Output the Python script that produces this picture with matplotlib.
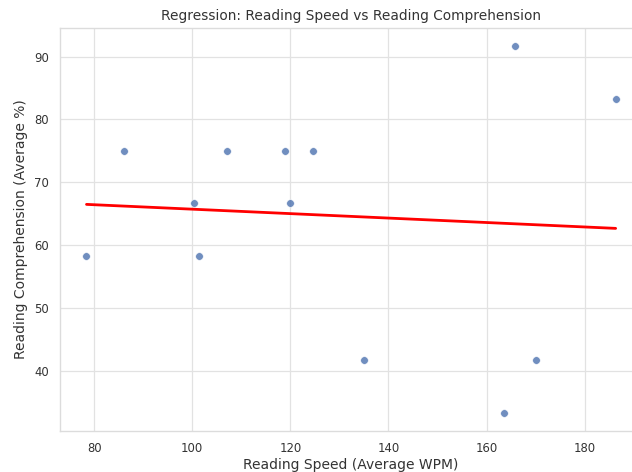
import numpy as np
import matplotlib
matplotlib.use("Agg")
import matplotlib.pyplot as plt
import seaborn as sns

# Average reading speed (WPM) and comprehension (%) per reader
speed_wpm = [78.45, 86.05, 100.46, 101.48, 107.1, 119.0, 119.9, 124.7,
             135.0, 163.6, 165.7, 170.0, 186.3]
comprehension = [58.33, 75.0, 66.67, 58.33, 75.0, 75.0, 66.67, 75.0,
                 41.67, 33.33, 91.67, 41.67, 83.33]

sns.set_theme(style="whitegrid")
plt.rcParams['font.family'] = ['DejaVu Sans']

fig = plt.figure(figsize=(6.32, 4.72), dpi=100)
# axes runs a bit past the right edge, like the reference
ax = fig.add_axes([0.095, 0.087, 0.921, 0.854])

x = np.array(speed_wpm)
y = np.array(comprehension)
sns.scatterplot(x=x, y=y, ax=ax, s=30, alpha=0.8, color="#4c72b0")

# linear fit
m, b = np.polyfit(x, y, 1)
xs = np.array([x.min(), x.max()])
ax.plot(xs, m * xs + b, color="red", linewidth=2)

ax.grid(color="#e2e2e2", linewidth=0.9)
for sp in ax.spines.values():
    sp.set_color("#dcdcdc")
    sp.set_linewidth(1.0)

ax.set_title("Regression: Reading Speed vs Reading Comprehension", fontsize=9.9, color="#333333")
ax.set_xlabel("Reading Speed (Average WPM)", fontsize=10, color="#333333", labelpad=2)
ax.set_ylabel("Reading Comprehension (Average %)", fontsize=10, color="#333333", labelpad=4)
ax.tick_params(labelsize=8.33, length=0, pad=8, colors="#333333")

plt.savefig("out.png", dpi=100)
